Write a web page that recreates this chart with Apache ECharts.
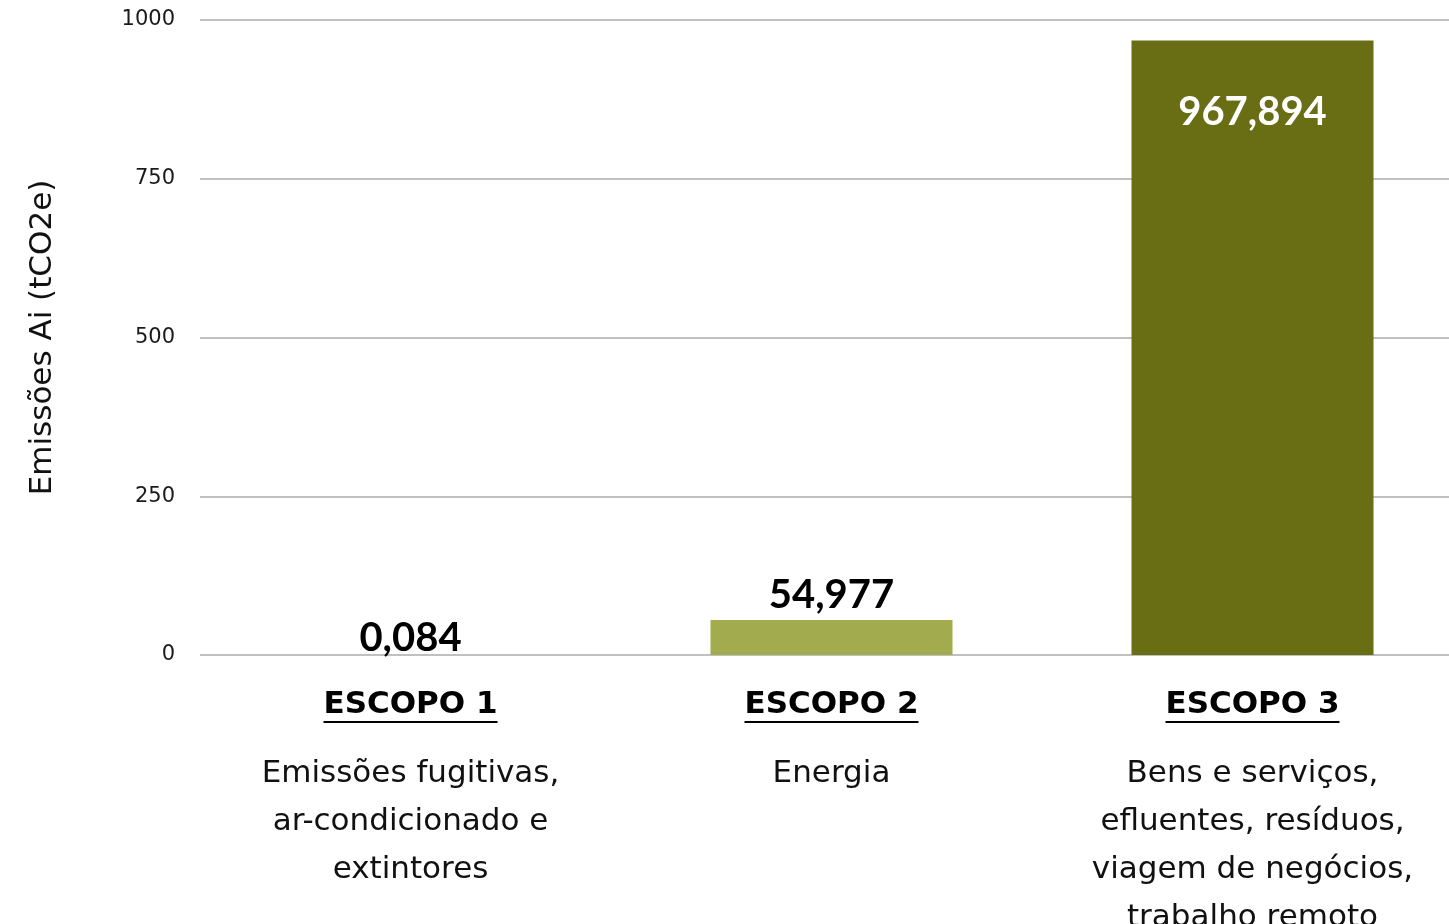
<!DOCTYPE html>
<html>
<head>
<meta charset="utf-8">
<script src="https://cdn.jsdelivr.net/npm/echarts@6/dist/echarts.min.js"></script>
<style>
html,body{margin:0;padding:0;background:#fff;}
#chart{width:1449px;height:924px;}
</style>
</head>
<body>
<div id="chart"></div>
<script>
// ---- data ----
var scopeTitles = ['ESCOPO 1', 'ESCOPO 2', 'ESCOPO 3'];
var scopeDescriptions = [
  ['Emissões fugitivas,', 'ar-condicionado e', 'extintores'],
  ['Energia'],
  ['Bens e serviços,', 'efluentes, resíduos,', 'viagem de negócios,', 'trabalho remoto']
];
var emissions = [0.084, 54.977, 967.894];
var barColors = ['#b6bf6a', '#a2ac4e', '#696e14'];
var yTicks = [0, 250, 500, 750, 1000];
var yAxisName = 'Emissões Ai (tCO2e)';

var TEXT_FONT = '"DejaVu Sans", sans-serif';
var NUM_FONT = 'Lato, "Open Sans", sans-serif';

// measure title widths for underline
var mc = document.createElement('canvas').getContext('2d');
mc.font = 'bold 31px "DejaVu Sans"';
var rich = {
  h: { fontSize: 31, fontWeight: 'bold', fontFamily: TEXT_FONT, color: '#000', lineHeight: 30 },
  s: { fontSize: 2, lineHeight: 26 },
  d: { fontSize: 31, fontFamily: TEXT_FONT, color: '#111', lineHeight: 48 }
};
scopeTitles.forEach(function (t, i) {
  rich['u' + i] = { width: Math.round(mc.measureText(t).width), height: 2, lineHeight: 4, fontSize: 2, backgroundColor: '#000' };
});

var chart = echarts.init(document.getElementById('chart'), null, { renderer: 'canvas' });
chart.setOption({
  animation: false,
  backgroundColor: '#fff',
  grid: { left: 200, right: -14, top: 20, bottom: 269, containLabel: false, outerBoundsMode: 'none' },
  xAxis: {
    type: 'category',
    data: scopeTitles,
    axisLine: { show: false },
    axisTick: { show: false },
    axisLabel: {
      interval: 0,
      margin: 35,
      formatter: function (v, i) {
        var s = '{h|' + v + '}\n{u' + i + '| }\n{s| }';
        scopeDescriptions[i].forEach(function (line) { s += '\n{d|' + line + '}'; });
        return s;
      },
      rich: rich
    }
  },
  yAxis: {
    type: 'value',
    min: yTicks[0],
    max: yTicks[yTicks.length - 1],
    interval: 250,
    name: yAxisName,
    nameLocation: 'middle',
    nameGap: 142,
    nameTextStyle: { fontSize: 31, fontFamily: TEXT_FONT, color: '#111' },
    axisLine: { show: false },
    axisTick: { show: false },
    axisLabel: {
      fontSize: 21, fontFamily: TEXT_FONT, color: '#1a1a1a', margin: 25,
      formatter: function (v) { return String(v); }
    },
    splitLine: { lineStyle: { color: '#c0c0c0', width: 2 } }
  },
  series: [{
    type: 'bar',
    barWidth: 242,
    data: emissions.map(function (v, i) {
      var item = { value: v, itemStyle: { color: barColors[i] } };
      if (i === 2) {
        item.label = { position: 'insideTop', distance: 52, color: '#fff' };
      } else if (i === 1) {
        item.label = { position: 'top', distance: 5 };
      } else {
        item.label = { position: 'top', distance: -3 };
      }
      return item;
    }),
    label: {
      show: true,
      fontSize: 40,
      fontWeight: 'bold',
      fontFamily: NUM_FONT,
      color: '#000',
      formatter: function (p) { return p.value.toFixed(3).replace('.', ','); }
    }
  }]
});
</script>
</body>
</html>
